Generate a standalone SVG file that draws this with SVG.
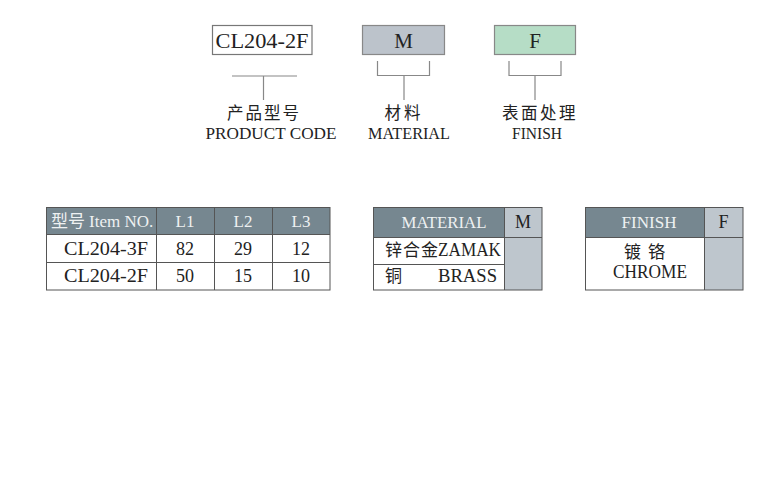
<svg xmlns="http://www.w3.org/2000/svg" width="778" height="500" viewBox="0 0 778 500">
<style>
.t{font-family:"Liberation Serif","Times New Roman",serif;fill:#222;}
.cj{font-family:"Noto Sans CJK SC","Noto Sans CJK JP",sans-serif;fill:#222;}
.hd{fill:#eef1f2;}
.ln{stroke:#888;stroke-width:1.2;fill:none;}
.bd{stroke:#555;stroke-width:1;fill:none;}
.dark{fill:#768790;}
.light{fill:#bec6cd;}
</style>
<rect width="778" height="500" fill="#fff"/>

<g id="code-box">
<rect x="212.5" y="25.5" width="99.5" height="29" fill="#fff" stroke="#777" stroke-width="1.2"/>
<text class="t" x="262" y="48" font-size="20" text-anchor="middle" textLength="93" lengthAdjust="spacingAndGlyphs">CL204-2F</text>
</g>
<g id="material-box">
<rect x="362.5" y="25.5" width="82" height="29" fill="#bcc3cb" stroke="#888" stroke-width="1.2"/>
<text class="t" x="403.5" y="47.5" font-size="21" text-anchor="middle">M</text>
</g>
<g id="finish-box">
<rect x="494.5" y="25.5" width="81" height="29" fill="#b6ddc6" stroke="#888" stroke-width="1.2"/>
<text class="t" x="535" y="47.5" font-size="21" text-anchor="middle">F</text>
</g>

<g id="connectors">
<path class="ln" d="M232 76H297M263.5 76V100"/>
<path class="ln" d="M377.5 61V75.5H429.5V61M404 75.5V100"/>
<path class="ln" d="M509 61V75.5H561V61M535 75.5V100"/>
</g>

<g id="label-code">
<text class="cj" x="264" y="119" font-size="16.5" text-anchor="middle" letter-spacing="2">产品型号</text>
<text class="t" x="271" y="138.5" font-size="17" text-anchor="middle" textLength="131" lengthAdjust="spacingAndGlyphs">PRODUCT CODE</text>
</g>
<g id="label-material">
<text class="cj" x="404" y="119" font-size="16.5" text-anchor="middle" letter-spacing="3">材料</text>
<text class="t" x="409" y="138.5" font-size="17" text-anchor="middle" textLength="82" lengthAdjust="spacingAndGlyphs">MATERIAL</text>
</g>
<g id="label-finish">
<text class="cj" x="540" y="119" font-size="16.5" text-anchor="middle" letter-spacing="2.5">表面处理</text>
<text class="t" x="537" y="138.5" font-size="17" text-anchor="middle" textLength="50" lengthAdjust="spacingAndGlyphs">FINISH</text>
</g>

<g id="table-items">
<rect class="dark" x="46" y="207" width="284" height="27"/>
<rect class="bd" x="46.5" y="207.5" width="283.5" height="82.5"/>
<path class="bd" d="M46 234.5H330M46 262.5H330M156.5 207V290M214.5 207V290M272.5 207V290"/>
<text x="51" y="227" font-size="17" class="hd"><tspan font-family="Noto Sans CJK SC,sans-serif">型号</tspan><tspan font-family="Liberation Serif,serif" dx="4">Item NO.</tspan></text>
<text class="t hd" x="185" y="227" font-size="17" text-anchor="middle">L1</text>
<text class="t hd" x="243" y="227" font-size="17" text-anchor="middle">L2</text>
<text class="t hd" x="301" y="227" font-size="17" text-anchor="middle">L3</text>
<text class="t" x="148" y="254.5" font-size="18" text-anchor="end" textLength="84" lengthAdjust="spacingAndGlyphs">CL204-3F</text>
<text class="t" x="185" y="254.5" font-size="18" text-anchor="middle">82</text>
<text class="t" x="243" y="254.5" font-size="18" text-anchor="middle">29</text>
<text class="t" x="301" y="254.5" font-size="18" text-anchor="middle">12</text>
<text class="t" x="148" y="282" font-size="18" text-anchor="end" textLength="84" lengthAdjust="spacingAndGlyphs">CL204-2F</text>
<text class="t" x="185" y="282" font-size="18" text-anchor="middle">50</text>
<text class="t" x="243" y="282" font-size="18" text-anchor="middle">15</text>
<text class="t" x="301" y="282" font-size="18" text-anchor="middle">10</text>
</g>

<g id="table-material">
<rect class="dark" x="373" y="207" width="131" height="30"/>
<rect class="light" x="504" y="207" width="38" height="83"/>
<rect class="bd" x="373.5" y="207.5" width="168.5" height="82.5"/>
<path class="bd" d="M373 237.5H542M373 264.5H504M504.5 207V290"/>
<text class="t hd" x="444" y="228" font-size="17" text-anchor="middle" textLength="85" lengthAdjust="spacingAndGlyphs">MATERIAL</text>
<text class="t" x="523" y="228" font-size="18" text-anchor="middle">M</text>
<text x="385" y="256" font-size="17"><tspan class="cj" letter-spacing="1">锌合金</tspan><tspan class="t" font-size="18" x="438" textLength="63" lengthAdjust="spacingAndGlyphs">ZAMAK</tspan></text>
<text class="cj" x="385" y="282" font-size="17">铜</text>
<text class="t" x="497" y="282" font-size="18" text-anchor="end" textLength="59" lengthAdjust="spacingAndGlyphs">BRASS</text>
</g>

<g id="table-finish">
<rect class="dark" x="585" y="207" width="119" height="30"/>
<rect class="light" x="704" y="207" width="39" height="83"/>
<rect class="bd" x="585.5" y="207.5" width="157.5" height="82.5"/>
<path class="bd" d="M585 237.5H743M704.5 207V290"/>
<text class="t hd" x="649" y="228" font-size="17" text-anchor="middle" textLength="55" lengthAdjust="spacingAndGlyphs">FINISH</text>
<text class="t" x="723.5" y="228" font-size="18" text-anchor="middle">F</text>
<text class="cj" x="648" y="258" font-size="17" text-anchor="middle" letter-spacing="7">镀铬</text>
<text class="t" x="650" y="278" font-size="18" text-anchor="middle" textLength="74" lengthAdjust="spacingAndGlyphs">CHROME</text>
</g>
</svg>
